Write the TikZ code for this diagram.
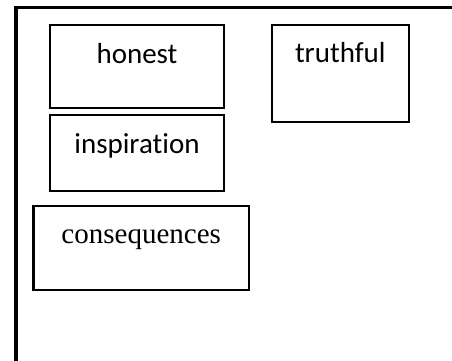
\documentclass[tikz,border=0pt]{standalone}
\usepackage{fontspec}
\setmainfont{Carlito}[Ligatures={NoCommon}]
\newfontfamily\serifface{Liberation Serif}
\usetikzlibrary{calc}
\begin{document}
\begin{tikzpicture}[x=1pt,y=-1pt,
  box/.style={draw=black,line width=2.2pt,rectangle,inner sep=0pt},
  txt/.style={anchor=base,inner sep=0pt,font=\fontsize{29}{34}\selectfont},
  frame/.style={draw=black,line width=3.6pt}]
\useasboundingbox (0,0) rectangle (452,360);
\coordinate (fbl) at (16,362);
\coordinate (ftl) at (16,7.5);
\coordinate (ftr) at (454,7.5);
\draw[frame] (fbl) -- (ftl) -- (ftr);
\node[box,minimum width=174pt,minimum height=83pt] (honest) at (137,66.5) {};
\node[txt] (thonest) at ($(honest.north)+(0,40)$) {honest};
\node[box,minimum width=137pt,minimum height=97pt] (truthful) at (340.3,73.3) {};
\node[txt] (ttruthful) at ($(truthful.north)+(0,38.5)$) {truthful};
\node[box,minimum width=174pt,minimum height=75.5pt] (inspiration) at (137,153) {};
\node[txt] (tinspiration) at ($(inspiration.north)+(0,39.3)$) {inspiration};
\node[box,minimum width=215.5pt,minimum height=84.5pt] (consequences) at (141.2,248) {};
\node[txt,font=\serifface\fontsize{29}{34}\selectfont] (tconsequences) at ($(consequences.north)+(0,39.3)$) {consequences};
\end{tikzpicture}
\end{document}
